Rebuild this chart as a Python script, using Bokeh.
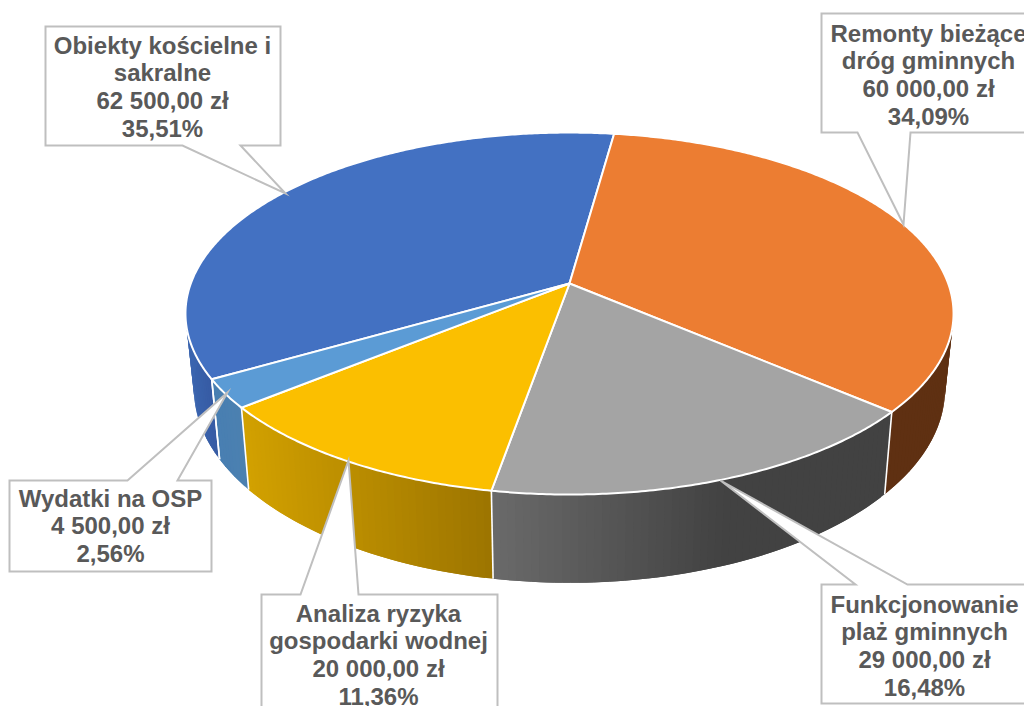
import math
from bokeh.plotting import figure
from bokeh.models import Range1d, ColumnDataSource
from bokeh.core.properties import value
from bokeh.embed import file_html
from bokeh.resources import INLINE

# ---- data ----
categories = ["Obiekty kościelne i sakralne", "Remonty bieżące dróg gminnych",
              "Funkcjonowanie plaż gminnych", "Analiza ryzyka gospodarki wodnej",
              "Wydatki na OSP"]
amounts = [62500, 60000, 29000, 20000, 4500]
amount_labels = ["62 500,00 zł", "60 000,00 zł", "29 000,00 zł", "20 000,00 zł", "4 500,00 zł"]
percent_labels = ["35,51%", "34,09%", "16,48%", "11,36%", "2,56%"]
name_lines = [["Obiekty kościelne i", "sakralne"], ["Remonty bieżące", "dróg gminnych"],
              ["Funkcjonowanie", "plaż gminnych"], ["Analiza ryzyka", "gospodarki wodnej"],
              ["Wydatki na OSP"]]

# ---- styles ----
top_colors = ["#4371C2", "#EC7D32", "#A4A4A4", "#FBBF00", "#5B9BD5"]
# wall shading: (screen x, rgb) stops per slice
wall_stops = [
    [(187, (60, 104, 178)), (220, (54, 90, 163))],
    [(886, (95, 48, 18)), (950, (95, 48, 18))],
    [(493, (106, 106, 106)), (720, (66, 66, 66)), (890, (66, 66, 66))],
    [(248, (210, 161, 0)), (490, (157, 117, 0))],
    [(218, (72, 127, 178)), (248, (76, 128, 176))],
]
TEXT = "#595959"
BORDER = "#BFBFBF"

# ---- projection of the tilted disc onto the page ----
CX, CY, A, B, K = 569.0, 283.0, 378.7, 176.0, 0.166
START = 240.05


def top_point(deg):
    t = math.radians(deg)
    x, y = math.sin(t), math.cos(t)
    w = 1 + K * y
    return CX + A * x / w, CY - B * y / w


def bottom_point(deg):
    x, y = top_point(deg)
    return CX + 0.978 * (x - CX), y + 80 + 0.072 * (y - 379)


def shade(stops, x):
    if x <= stops[0][0]:
        c = stops[0][1]
    elif x >= stops[-1][0]:
        c = stops[-1][1]
    else:
        for (x0, c0), (x1, c1) in zip(stops, stops[1:]):
            if x0 <= x <= x1:
                f = (x - x0) / (x1 - x0)
                c = tuple(c0[i] + f * (c1[i] - c0[i]) for i in range(3))
                break
    return "#%02x%02x%02x" % tuple(int(round(v)) for v in c)


total = sum(amounts)
edges = [START]
for a in amounts:
    edges.append(edges[-1] + a / total * 360)

p = figure(width=1024, height=706, x_range=Range1d(0, 1024), y_range=Range1d(706, 0),
           output_backend="svg", toolbar_location=None, min_border=0,
           background_fill_color="white", border_fill_color="white")
p.axis.visible = False
p.grid.visible = False
p.outline_line_color = None

# side wall, as thin shaded strips over the visible arc (each overlaps the next to hide seams)
VIS0, VIS1 = 85.0, 275.0
xs, ys, cols = [], [], []
seps_x, seps_y = [], []
for i in range(len(amounts)):
    a0, a1 = edges[i], edges[i + 1]
    for shift in (-360, 0, 360):
        lo, hi = max(a0 + shift, VIS0), min(a1 + shift, VIS1)
        if lo >= hi:
            continue
        n = max(2, int((hi - lo) * 1.0))
        for j in range(n):
            d0 = lo + (hi - lo) * j / n
            d1 = lo + (hi - lo) * (j + 1) / n
            d2 = min(hi, d1 + (hi - lo) / n)
            t0, t1, b0, b1 = top_point(d0), top_point(d2), bottom_point(d0), bottom_point(d2)
            xs.append([t0[0], t1[0], b1[0], b0[0]])
            ys.append([t0[1], t1[1], b1[1], b0[1]])
            cols.append(shade(wall_stops[i], (bottom_point(d0)[0] + bottom_point(d1)[0]) / 2))
p.patches(xs="x", ys="y", fill_color="c", line_color=None,
          source=ColumnDataSource(dict(x=xs, y=ys, c=cols)))

for e in edges:
    d = e % 360
    if VIS0 < d < VIS1:
        t, b = top_point(d), bottom_point(d)
        seps_x.append([t[0], b[0]])
        seps_y.append([t[1], b[1]])
p.multi_line(xs=seps_x, ys=seps_y, line_color="white", line_width=1.6)

# top face
tx, ty = [], []
for i in range(len(amounts)):
    a0, a1 = edges[i], edges[i + 1]
    n = max(4, int((a1 - a0) * 2))
    pts = [top_point(a0 + (a1 - a0) * j / n) for j in range(n + 1)]
    tx.append([CX] + [q[0] for q in pts])
    ty.append([CY] + [q[1] for q in pts])
p.patches(xs="x", ys="y", fill_color="c", line_color="white", line_width=2, line_join="round",
          source=ColumnDataSource(dict(x=tx, y=ty, c=top_colors)))

# callouts: box left, top, right, bottom, pointer base (two x), pointer tip, pointer edge
callouts = [
    (45, 26, 280, 145, 182, 240, (285, 193), "bottom"),
    (821, 13, 1045, 132, 857, 910, (903, 224), "bottom"),
    (821, 584, 1045, 703, 855, 907, (720, 480), "top"),
    (261, 594, 497, 730, 300, 358, (348, 460), "top"),
    (9, 480, 211, 571, 127, 177, (227, 392), "top"),
]
cx, cy = [], []
for l, t, r, b, p0, p1, tip, side in callouts:
    if side == "bottom":
        cx.append([l, r, r, p1, tip[0], p0, l])
        cy.append([t, t, b, b, tip[1], b, b])
    else:
        cx.append([l, p0, tip[0], p1, r, r, l])
        cy.append([t, t, tip[1], t, t, b, b])
p.patches(xs=cx, ys=cy, fill_color="white", line_color=BORDER, line_width=2, line_join="miter")

# label texts: one row per line
text_centres = [162, 928, 924, 378, 110]
first_line_y = [44.5, 32.5, 603.5, 612.5, 497.5]
LINE = 27.8
lx, ly, lt = [], [], []
for i in range(len(amounts)):
    lines = name_lines[i] + [amount_labels[i], percent_labels[i]]
    for j, s in enumerate(lines):
        lx.append(text_centres[i])
        ly.append(first_line_y[i] + j * LINE)
        lt.append(s)
p.text(x=lx, y=ly, text=lt, text_font=value("Liberation Sans"), text_font_style="bold",
       text_font_size="24px", text_color=TEXT, text_align="center", text_baseline="middle")

open("out.html", "w").write(file_html(p, INLINE))
